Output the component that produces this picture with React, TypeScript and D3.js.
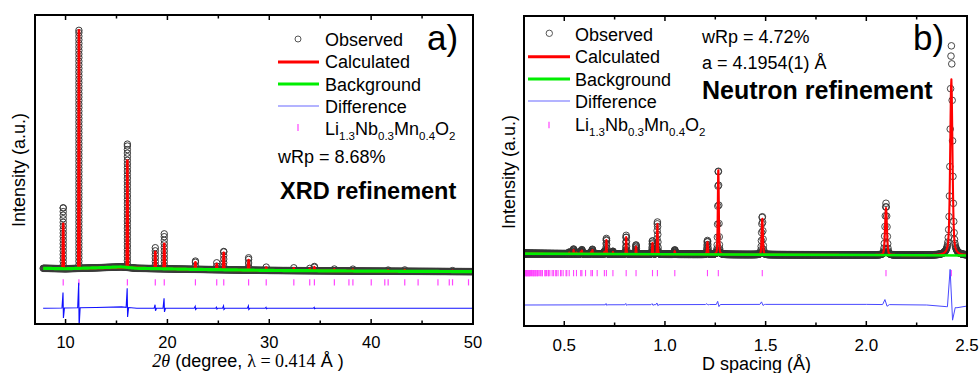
import React from 'react';
import * as d3 from 'd3';

// ---------------- Panel a) XRD ----------------
const xrdMajorTicks = [10, 20, 30, 40, 50];
const xrdMinorTicks = [15, 25, 35, 45];
const xrdTickLabels = ['10', '20', '30', '40', '50'];
// Bragg reflection positions (2theta, degree)
const xrdReflections = [9.77, 11.31, 16.07, 18.81, 19.69, 22.75, 24.84, 25.53, 27.97, 29.7, 32.41, 33.97, 34.43, 36.39, 37.82, 38.21, 40.01, 41.34, 41.67, 43.3, 44.61, 46.56, 47.67, 47.99, 49.56];
// peak positions and heights (a.u., strongest = 100)
const xrdPeakPos = [9.77, 11.31, 16.07, 18.81, 19.69, 22.75, 24.84, 25.53, 27.97, 29.7, 32.41, 33.97, 34.43, 36.39, 38.21, 41.67, 43.3, 47.99];
const xrdPeakObs = [25.6, 100, 51.8, 8.8, 14.7, 3.5, 2.9, 7.7, 5.2, 1.4, 1.2, 1.0, 1.8, 0.8, 0.8, 0.5, 0.6, 0.4];
const xrdPeakCalc = [18.9, 100, 44.9, 7.1, 10.5, 3.0, 2.4, 7.1, 4.2, 1.2, 1.0, 0.8, 1.5, 0.6, 0.6, 0.4, 0.5, 0.3];
// background
const xrdBgPos = [7.8, 10, 13, 15.5, 17, 22, 30, 40, 50];
const xrdBgVal = [0.7, 0.5, 0.9, 1.3, 0.7, 0.3, -0.2, -0.5, -0.7];
// difference curve
const xrdDiffBasePos = [7.8, 13, 15.5, 17, 50];
const xrdDiffBaseVal = [0, 0.3, 0.6, 0, 0];
const xrdDiffPos = [9.77, 11.31, 16.07, 18.81, 19.69, 22.75, 24.84, 25.53, 27.97, 29.7, 34.43];
const xrdDiffUp = [6.5, 10.5, 8.0, 1.5, 4.2, 0.8, 0.5, 1.0, 1.0, 0.4, 0.4];
const xrdDiffDown = [-4.2, -8.0, -4.0, -1.0, -1.5, -0.5, -0.3, -0.5, -0.5, -0.2, -0.2];

// ---------------- Panel b) Neutron ----------------
const nMajorTicks = [0.5, 1.0, 1.5, 2.0, 2.5];
const nMinorTicks = [0.75, 1.25, 1.75, 2.25];
const nTickLabels = ['0.5', '1.0', '1.5', '2.0', '2.5'];
// Bragg reflection positions (d spacing, Å)
const nReflections = [2.4222, 2.0977, 1.4833, 1.265, 1.2111, 1.0489, 0.9625, 0.9381, 0.8564, 0.8074, 0.7416, 0.7092, 0.6992, 0.6634, 0.6398, 0.6325, 0.6056, 0.5875, 0.5818, 0.5606, 0.5462, 0.5244, 0.5126, 0.5088, 0.4944, 0.4844, 0.4813, 0.4691, 0.4605, 0.4578, 0.4472, 0.4398, 0.4282, 0.4217, 0.4195, 0.4114, 0.4056, 0.4037, 0.3912, 0.3895, 0.383, 0.3783, 0.3708, 0.3666, 0.3652, 0.3598, 0.3558, 0.3546, 0.3496, 0.346, 0.3449, 0.3403, 0.337, 0.3317, 0.3286, 0.3276, 0.3237, 0.3208, 0.3199, 0.3162, 0.3136, 0.3127, 0.3093, 0.3068, 0.3028, 0.3004];
const nPeakPos = [2.4222, 2.0977, 1.4833, 1.265, 1.2111, 1.0489, 0.9625, 0.9381, 0.8564, 0.8074, 0.7416, 0.7092, 0.6992, 0.6398, 0.6325, 0.5875, 0.5818, 0.5606, 0.5462, 0.5244];
const nPeakObs = [100, 24.7, 18.3, 40.5, 6.6, 2.1, 15.4, 6.4, 4.4, 8.9, 1.3, 7.4, 1.2, 2.2, 1.0, 2.0, 1.2, 0.8, 2.3, 0.8];
const nPeakCalc = [84, 22.4, 17.3, 41, 5.9, 1.5, 14.4, 5.4, 3.6, 8.1, 1.0, 6.6, 1.0, 1.8, 0.8, 1.6, 1.0, 0.6, 1.8, 0.6];
const nBgPos = [0.3, 1.0, 1.5, 2.0, 2.5];
const nBgVal = [-0.3, -0.6, -0.8, -1.0, -1.2];
const nDiffBasePos = [0.3, 1.5, 2.0, 2.3, 2.4, 2.45, 2.5];
const nDiffBaseVal = [0, 0.3, 0.3, 0, -0.8, -1.3, -0.5];
const nDiffPos = [0.7092, 0.8074, 0.9381, 0.9625, 1.2111, 1.265, 1.4833, 2.0977, 2.4222];
const nDiffUp = [0.6, 0.6, 0.5, 0.8, 0.4, 1.5, 1.2, 2.4, 18];
const nDiffDown = [-0.3, -0.3, -0.3, -0.5, -0.2, -1.0, -0.5, -0.8, -6.2];

const SANS = 'Liberation Sans, Arial, sans-serif';
const SERIF = 'Liberation Serif, Times New Roman, serif';

function pv(x: number, c: number, fwhm: number, eta: number) {
  const t = (x - c) / fwhm;
  return eta / (1 + 4 * t * t) + (1 - eta) * Math.exp(-4 * Math.LN2 * t * t);
}

function diffPoints(basePos: number[], baseVal: number[], pos: number[], up: number[], down: number[], hw: (p: number) => number, so: (p: number) => number, offset: number) {
  const base = d3.scaleLinear().domain(basePos).range(baseVal).clamp(true);
  const pts: [number, number][] = basePos.map((p, i) => [p, baseVal[i] + offset]);
  pos.forEach((p, i) => {
    pts.push([p - hw(p), base(p - hw(p)) + offset]);
    pts.push([p - so(p), base(p) + up[i] + offset]);
    pts.push([p + so(p), base(p) + down[i] + offset]);
    pts.push([p + hw(p), base(p + hw(p)) + offset]);
  });
  pts.sort((a, b) => a[0] - b[0]);
  return pts;
}

function Frame({ x, y, majors, minors, labels, labelY, fontSize }: any) {
  const [x0, x1] = x.range();
  const [y0, y1] = y.range();
  return (
    <g>
      {majors.map((t: number, i: number) => (
        <g key={'M' + i}>
          <line x1={x(t)} x2={x(t)} y1={y0} y2={y0 - 5} stroke="#000" strokeWidth={1.5} />
          <line x1={x(t)} x2={x(t)} y1={y1} y2={y1 + 5} stroke="#000" strokeWidth={1.5} />
          <text x={x(t)} y={labelY} textAnchor="middle" fontFamily={SANS} fontSize={fontSize} fill="#000">{labels[i]}</text>
        </g>
      ))}
      {minors.map((t: number, i: number) => (
        <g key={'m' + i}>
          <line x1={x(t)} x2={x(t)} y1={y0} y2={y0 - 3.5} stroke="#000" strokeWidth={1.5} />
          <line x1={x(t)} x2={x(t)} y1={y1} y2={y1 + 3.5} stroke="#000" strokeWidth={1.5} />
        </g>
      ))}
      <rect x={x0} y={y1} width={x1 - x0} height={y0 - y1} fill="none" stroke="#000" strokeWidth={2} />
    </g>
  );
}

function Formula({ x, y }: { x: number; y: number }) {
  return (
    <text x={x} y={y} fontFamily={SANS} fontSize={18} fill="#000">
      Li<tspan fontSize={11.5} dy={5}>1.3</tspan>
      <tspan dy={-5}>Nb</tspan><tspan fontSize={11.5} dy={5}>0.3</tspan>
      <tspan dy={-5}>Mn</tspan><tspan fontSize={11.5} dy={5}>0.4</tspan>
      <tspan dy={-5}>O</tspan><tspan fontSize={11.5} dy={5}>2</tspan>
    </text>
  );
}

export default function App() {
  // ---------- scales ----------
  const xA = d3.scaleLinear().domain([7, 50]).range([35, 473]);
  const yA = d3.scaleLinear().domain([-22.7, 107.1]).range([324, 15]);
  const xB = d3.scaleLinear().domain([0.3, 2.5]).range([524, 967]);
  const yB = d3.scaleLinear().domain([-34.8, 112.9]).range([326, 16]);

  // ---------- XRD derived ----------
  const bgA = d3.scaleLinear().domain(xrdBgPos).range(xrdBgVal).clamp(true);
  const obsA: [number, number][] = [];
  d3.range(7.8, 50.001, 0.05).forEach((t) => obsA.push([t, bgA(t)]));
  xrdPeakPos.forEach((p, i) => {
    const h = xrdPeakObs[i];
    for (let k = 1.5; k < h; k += 1.5) obsA.push([p, bgA(p) + k]);
    obsA.push([p, bgA(p) + h]);
  });
  const calcA: [number, number][] = [[7.8, bgA(7.8)]];
  xrdPeakPos.forEach((p, i) => {
    calcA.push([p - 0.06, bgA(p - 0.06)]);
    calcA.push([p, bgA(p) + xrdPeakCalc[i]]);
    calcA.push([p + 0.06, bgA(p + 0.06)]);
  });
  calcA.push([50, bgA(50)]);
  const bgLineA = d3.range(7.8, 50.001, 0.2).map((t) => [t, bgA(t)] as [number, number]);
  const diffA = diffPoints(xrdDiffBasePos, xrdDiffBaseVal, xrdDiffPos, xrdDiffUp, xrdDiffDown, () => 0.12, () => 0.02, -16.1);
  const lineA = d3.line<[number, number]>().x((d) => xA(d[0])).y((d) => yA(d[1]));
  const smoothA = d3.line<[number, number]>().x((d) => xA(d[0])).y((d) => yA(d[1])).curve(d3.curveBasis);

  // ---------- Neutron derived ----------
  const bgB = d3.scaleLinear().domain(nBgPos).range(nBgVal).clamp(true);
  const grid: number[] = [];
  for (let dd = 0.3; dd <= 2.5; dd *= 1.0008) grid.push(dd);
  const fw = (p: number) => 0.0035 * p + 0.0008 * p * p;
  const eta = (p: number) => (p > 2.3 ? 0.45 : 0.3);
  const obsB = grid.map((dd) => {
    let s = bgB(dd);
    nPeakPos.forEach((p, i) => { s += nPeakObs[i] * pv(dd, p, fw(p), eta(p)); });
    return [dd, s] as [number, number];
  });
  const calcB = grid.map((dd) => {
    let s = bgB(dd);
    nPeakPos.forEach((p, i) => { s += nPeakCalc[i] * pv(dd, p, fw(p), eta(p)); });
    return [dd, s] as [number, number];
  });
  const bgLineB = nBgPos.map((p, i) => [p, nBgVal[i]] as [number, number]);
  const diffB = diffPoints(nDiffBasePos, nDiffBaseVal, nDiffPos, nDiffUp, nDiffDown, (p) => 0.008 * p, (p) => 0.0025 * p, -24.8);
  const lineB = d3.line<[number, number]>().x((d) => xB(d[0])).y((d) => yB(d[1]));

  return (
    <svg width={980} height={373} style={{ position: 'absolute', left: 0, top: 0, background: '#fff' }}>
      <defs>
        <clipPath id="clipA"><rect x={35} y={15} width={438} height={309} /></clipPath>
        <clipPath id="clipB"><rect x={524} y={16} width={443} height={310} /></clipPath>
      </defs>
      <rect x={0} y={0} width={980} height={373} fill="#fff" />

      {/* ===== Panel a ===== */}
      <g clipPath="url(#clipA)">
        <g fill="none" stroke="#3a3a3a" strokeWidth={1}>
          {obsA.map((d, i) => <circle key={i} cx={xA(d[0])} cy={yA(d[1])} r={3.2} />)}
        </g>
        <path d={lineA(calcA) || ''} fill="none" stroke="#ff0000" strokeWidth={2.6} strokeLinejoin="round" />
        <path d={smoothA(bgLineA) || ''} fill="none" stroke="#00ee00" strokeWidth={3.2} />
        {xrdReflections.map((r, i) => (
          <line key={i} x1={xA(r)} x2={xA(r)} y1={yA(-3.9)} y2={yA(-6.5)} stroke="#ff44ff" strokeWidth={1.2} />
        ))}
        <path d={lineA(diffA) || ''} fill="none" stroke="#1010ff" strokeWidth={1.1} />
      </g>
      <Frame x={xA} y={yA} majors={xrdMajorTicks} minors={xrdMinorTicks} labels={xrdTickLabels} labelY={348} fontSize={16.5} />

      {/* legend a */}
      <circle cx={298} cy={39} r={3} fill="none" stroke="#555" strokeWidth={1} />
      <line x1={278} x2={319} y1={62} y2={62} stroke="#ff0000" strokeWidth={3} />
      <line x1={278} x2={319} y1={84} y2={84} stroke="#00ee00" strokeWidth={3} />
      <line x1={278} x2={319} y1={106} y2={106} stroke="#9a9aff" strokeWidth={1.5} />
      <line x1={298} x2={298} y1={124} y2={131} stroke="#ff44ff" strokeWidth={1.2} />
      <g fontFamily={SANS} fontSize={18} fill="#000">
        <text x={325} y={45.7}>Observed</text>
        <text x={325} y={68.3}>Calculated</text>
        <text x={325} y={90.5}>Background</text>
        <text x={325} y={112.7}>Difference</text>
      </g>
      <Formula x={325} y={135} />
      <text x={278} y={163} fontFamily={SANS} fontSize={18}>wRp = 8.68%</text>
      <text x={280} y={199} fontFamily={SANS} fontSize={23.5} fontWeight="bold">XRD refinement</text>
      <text x={427} y={50} fontFamily={SANS} fontSize={35}>a)</text>

      <text x={248} y={366.5} textAnchor="middle" fontSize={18} style={{ whiteSpace: 'pre' }}>
        <tspan fontFamily={SERIF} fontStyle="italic">2θ</tspan>
        <tspan fontFamily={SANS}> (degree, </tspan>
        <tspan fontFamily={SERIF}>λ = 0.414</tspan>
        <tspan fontFamily={SANS}> Å )</tspan>
      </text>
      <text transform="translate(25,170) rotate(-90)" textAnchor="middle" fontFamily={SANS} fontSize={18}>Intensity (a.u.)</text>

      {/* ===== Panel b ===== */}
      <g clipPath="url(#clipB)">
        <g fill="none" stroke="#333" strokeWidth={0.9}>
          {obsB.map((d, i) => <circle key={i} cx={xB(d[0])} cy={yB(d[1])} r={3.3} />)}
        </g>
        <path d={lineB(calcB) || ''} fill="none" stroke="#ff0000" strokeWidth={2.1} strokeLinejoin="round" />
        <path d={lineB(bgLineB) || ''} fill="none" stroke="#00ee00" strokeWidth={2.6} />
        {nReflections.map((r, i) => (
          <line key={i} x1={xB(r)} x2={xB(r)} y1={yB(-8.1)} y2={yB(-11.1)} stroke="#ff44ff" strokeWidth={1.1} />
        ))}
        <path d={lineB(diffB) || ''} fill="none" stroke="#4848ff" strokeWidth={1} />
      </g>
      <Frame x={xB} y={yB} majors={nMajorTicks} minors={nMinorTicks} labels={nTickLabels} labelY={350.5} fontSize={17} />

      {/* legend b */}
      <circle cx={549.3} cy={33.3} r={3.2} fill="none" stroke="#555" strokeWidth={1} />
      <line x1={528} x2={570} y1={56.7} y2={56.7} stroke="#ff0000" strokeWidth={3} />
      <line x1={528} x2={570} y1={79} y2={79} stroke="#00ee00" strokeWidth={3} />
      <line x1={528} x2={570} y1={101} y2={101} stroke="#9a9aff" strokeWidth={1.5} />
      <line x1={549} x2={549} y1={121.7} y2={128.3} stroke="#ff44ff" strokeWidth={1.2} />
      <g fontFamily={SANS} fontSize={18} fill="#000">
        <text x={575} y={40.7}>Observed</text>
        <text x={575} y={63.3}>Calculated</text>
        <text x={575} y={86}>Background</text>
        <text x={575} y={108.3}>Difference</text>
      </g>
      <Formula x={575} y={130.5} />
      <text x={702} y={42.5} fontFamily={SANS} fontSize={18}>wRp = 4.72%</text>
      <text x={702} y={68.8} fontFamily={SANS} fontSize={18}>a = 4.1954(1) Å</text>
      <text x={702} y={98.5} fontFamily={SANS} fontSize={25} fontWeight="bold">Neutron refinement</text>
      <text x={913} y={49.5} fontFamily={SANS} fontSize={35}>b)</text>

      <text x={756.5} y={370} textAnchor="middle" fontFamily={SANS} fontSize={18}>D spacing (Å)</text>
      <text transform="translate(515,172) rotate(-90)" textAnchor="middle" fontFamily={SANS} fontSize={18}>Intensity (a.u.)</text>
    </svg>
  );
}
